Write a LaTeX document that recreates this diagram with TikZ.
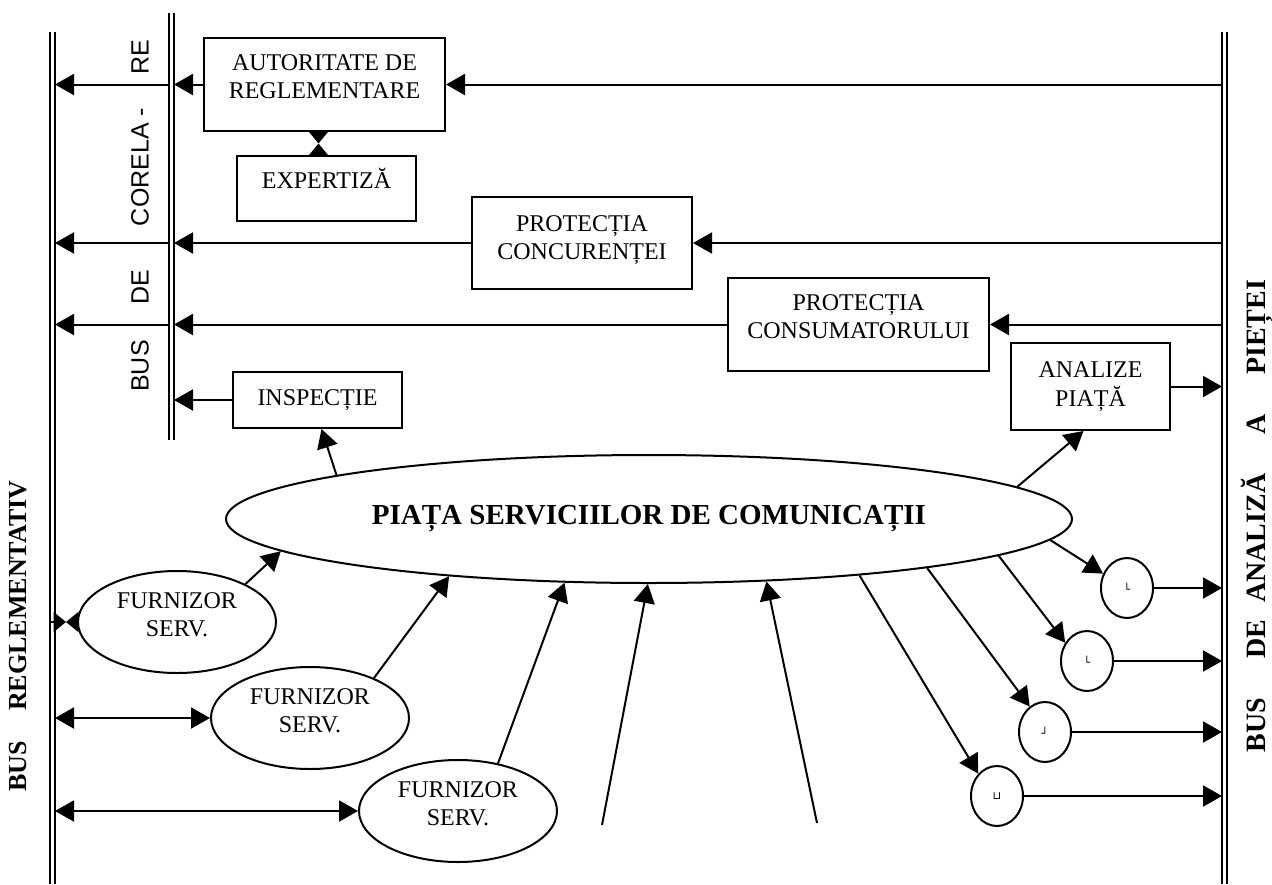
\documentclass[tikz,border=0pt]{standalone}
\usepackage{fontspec}
\setmainfont{Liberation Serif}
\newfontfamily\lsans{Liberation Sans}
\newfontfamily\dejavu{DejaVu Sans}
\usetikzlibrary{arrows.meta,shapes.geometric}
\newcommand\upt[2]{\raisebox{#1}[\height][\depth]{\begin{tabular}{@{}c@{}}#2\end{tabular}}}
\begin{document}
\begin{tikzpicture}[x=1pt,y=-1pt,
  lw/.style={line width=2pt},
  box/.style={draw, lw, rectangle, align=center, inner sep=0pt, font=\fontsize{24}{28}\selectfont},
  furn/.style={draw, lw, ellipse, align=center, inner sep=0pt, minimum width=198pt, minimum height=102pt, font=\fontsize{24}{28}\selectfont},
  tcirc/.style={draw, lw, ellipse, inner sep=0pt, minimum width=52pt, minimum height=60pt, font=\dejavu\fontsize{11}{11}\selectfont},
  arr/.style={lw, -{Triangle[length=19pt,width=21pt]}},
  darr/.style={lw, {Triangle[length=19pt,width=21pt]}-{Triangle[length=19pt,width=21pt]}},
  tiearr/.style={lw, -{Triangle[length=12.5pt,width=20pt]}},
  busline/.style={line width=2pt},
  sanslab/.style={rotate=90, inner sep=0pt, font=\lsans\fontsize{25}{25}\selectfont},
  boldlab/.style={rotate=90, inner sep=0pt, font=\bfseries\fontsize{26}{26}\selectfont}
]
\useasboundingbox (0,0) rectangle (1272,884);
% bus lines
\draw[busline] (50,32) -- (50,884);
\draw[busline] (55,32) -- (55,884);
\draw[busline] (169,13) -- (169,440);
\draw[busline] (174,13) -- (174,440);
\draw[busline] (1222,32) -- (1222,884);
\draw[busline] (1227,32) -- (1227,884);
\coordinate (Lo) at (50,0);
\coordinate (L) at (55,0);
\coordinate (Iout) at (169,0);
\coordinate (Iin) at (174,0);
\coordinate (R) at (1222,0);
% labels
\node[sanslab] (re) at (140,57) {RE};
\node[sanslab] (corela) at (140,167) {CORELA -};
\node[sanslab] (de) at (140,287) {DE};
\node[sanslab] (bus1) at (140,366) {BUS};
\node[boldlab] (busreg) at (18,636) {BUS\hspace{30pt}REGLEMENTATIV};
\node[boldlab, font=\bfseries\fontsize{28}{28}\selectfont] (busan) at (1257,516) {BUS\hspace{1.4em}DE\hspace{0.6em}ANALIZĂ\hspace{1.4em}A\hspace{1.4em}PIEȚEI};
% boxes
\node[box, minimum width=241pt, minimum height=93pt] (aut) at (324.5,84.5) {\upt{6pt}{AUTORITATE DE\\REGLEMENTARE}};
\node[box, minimum width=179pt, minimum height=65pt] (exp) at (326.5,188.5) {\upt{6pt}{EXPERTIZĂ}};
\node[box, minimum width=220pt, minimum height=92pt] (conc) at (582,243) {\upt{3pt}{PROTECȚIA\\CONCURENȚEI}};
\node[box, minimum width=261pt, minimum height=93pt] (cons) at (858.5,324.5) {\upt{6pt}{PROTECȚIA\\CONSUMATORULUI}};
\node[box, minimum width=169pt, minimum height=56pt] (insp) at (317.5,400) {INSPECȚIE};
\node[box, minimum width=159pt, minimum height=87pt] (an) at (1090.5,386.5) {\upt{0pt}{ANALIZE\\PIAȚĂ}};
% main ellipse
\node[draw, lw, ellipse, inner sep=0pt, minimum width=846pt, minimum height=128pt, font=\bfseries\fontsize{29}{29}\selectfont] (pia) at (649,519) {PIAȚA SERVICIILOR DE COMUNICAȚII};
% furnizori
\node[furn] (f1) at (177,622) {\upt{5pt}{FURNIZOR\\SERV.}};
\node[furn] (f2) at (310,718) {\upt{5pt}{FURNIZOR\\SERV.}};
\node[furn] (f3) at (458,811) {\upt{5pt}{FURNIZOR\\SERV.}};
% small circles
\node[tcirc] (ca) at (1127,588) {└};
\node[tcirc] (cb) at (1087,661) {└};
\node[tcirc] (cc) at (1045,732) {┘};
\node[tcirc] (cd) at (997,796) {⊔};
% top connectors
\draw[arr] (R |- aut.east) -- (aut.east);
\draw[arr] (aut.west) -- (Iin |- aut.west);
\draw[arr] (Iout |- aut.west) -- (L |- aut.west);
\coordinate (m1) at (318.5,143.5);
\draw[tiearr] ([xshift=-6pt]aut.south) -- (m1);
\draw[tiearr] ([xshift=-8pt]exp.north) -- (m1);
\draw[arr] (R |- conc.east) -- (conc.east);
\draw[arr] (conc.west) -- (Iin |- conc.west);
\draw[arr] (Iout |- conc.west) -- (L |- conc.west);
\draw[arr] (R |- cons.east) -- (cons.east);
\draw[arr] (cons.west) -- (Iin |- cons.west);
\draw[arr] (Iout |- cons.west) -- (L |- cons.west);
\draw[arr] (insp.west) -- (Iin |- insp.west);
\draw[arr] (an.east) -- (R |- an.east);
\draw[arr] (pia.172) -- ([xshift=4pt]insp.south);
\draw[arr] (pia.5) -- ([xshift=-7pt]an.south);
% furnizori connectors
\coordinate (m2) at (66,622);
\draw[tiearr] (Lo |- f1.west) -- (m2);
\draw[tiearr] (f1.west) -- (m2);
\draw[darr] (L |- f2.west) -- (f2.west);
\draw[darr] (L |- f3.west) -- (f3.west);
\draw[arr] (f1.29) -- (pia.185);
\draw[arr] (f2.32) -- (pia.196);
\draw[arr] (f3.50) -- (pia.217);
\coordinate (u1) at (602,825);
\coordinate (u2) at (817,823);
\draw[arr] (u1) -- (pia.269);
\draw[arr] (u2) -- (pia.332);
% right small circles
\draw[arr] (pia.357) -- (ca.149);
\draw[arr] (pia.354) -- (cb.140);
\draw[arr] (pia.350) -- (cc.121);
\draw[arr] (pia.345) -- (cd.130);
\draw[arr] (ca.east) -- (R |- ca.east);
\draw[arr] (cb.east) -- (R |- cb.east);
\draw[arr] (cc.east) -- (R |- cc.east);
\draw[arr] (cd.east) -- (R |- cd.east);
\end{tikzpicture}
\end{document}
